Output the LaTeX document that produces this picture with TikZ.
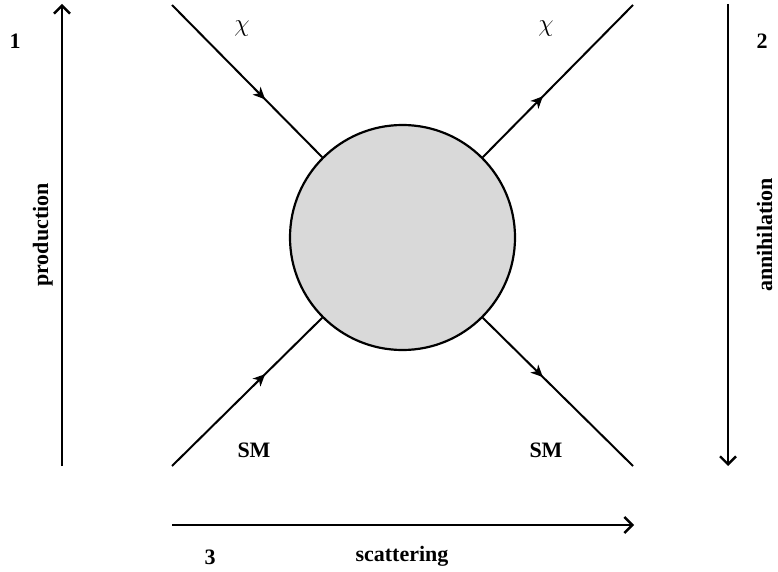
\documentclass[tikz,border=0pt]{standalone}
\usepackage{fontspec}
\setmainfont{Liberation Serif}
\usetikzlibrary{arrows.meta,decorations.markings}
\tikzset{
  lbl/.style={font=\bfseries\fontsize{22}{26}\selectfont, inner sep=0pt},
  chilbl/.style={font=\fontsize{24}{28}\selectfont, inner sep=0pt},
  bigarrow/.style={line width=2.6pt, -{Straight Barb[length=8pt,width=16pt,line width=2.4pt]}},
  fermin/.style={line width=2pt, postaction={decorate}, decoration={markings,
      mark=at position 0.62 with {\arrow{Stealth[length=12pt,width=11pt,inset=3.5pt]}}}},
  fermout/.style={line width=2pt, postaction={decorate}, decoration={markings,
      mark=at position 0.40 with {\arrow{Stealth[length=12pt,width=11pt,inset=3.5pt]}}}},
  blobstyle/.style={circle, draw, line width=2.2pt, fill=blobgray, minimum size=225pt, inner sep=0pt}
}
\definecolor{blobgray}{RGB}{217,217,217}
\begin{document}
\begin{tikzpicture}[x=1pt,y=-1pt]
\useasboundingbox (0,0) rectangle (778,572);
\node[blobstyle] (blob) at (402.5,237.5) {};
\coordinate (tl) at (172,5);
\coordinate (tr) at (633,5);
\coordinate (bl) at (172,466);
\coordinate (br) at (633,466);
\draw[fermin] (tl) -- (blob.135);
\draw[fermin] (bl) -- (blob.-135);
\draw[fermout] (blob.45) -- (tr);
\draw[fermout] (blob.-45) -- (br);
% big arrows
\coordinate (lb) at (62,466);
\coordinate (lt) at (62,4);
\coordinate (rt) at (728,4);
\coordinate (rb) at (728,466);
\coordinate (bls) at (172,525);
\coordinate (ble) at (634,525);
\draw[bigarrow] (lb) -- (lt);
\draw[bigarrow] (rt) -- (rb);
\draw[bigarrow] (bls) -- (ble);
% labels
\node[lbl] (n1) at (15,41) {1};
\node[lbl] (n2) at (762,41) {2};
\node[lbl] (n3) at (210,557) {3};
\node[lbl, rotate=90, anchor=base] (prod) at (48,235) {production};
\node[lbl, rotate=90, anchor=base] (anni) at (772,235) {annihilation};
\node[lbl] (scat) at (402,556) {scattering};
\node[chilbl] (chi1) at (242,29) {$\chi$};
\node[chilbl] (chi2) at (546,29) {$\chi$};
\node[lbl] (sm1) at (254,450) {SM};
\node[lbl] (sm2) at (546,450) {SM};
\end{tikzpicture}
\end{document}
